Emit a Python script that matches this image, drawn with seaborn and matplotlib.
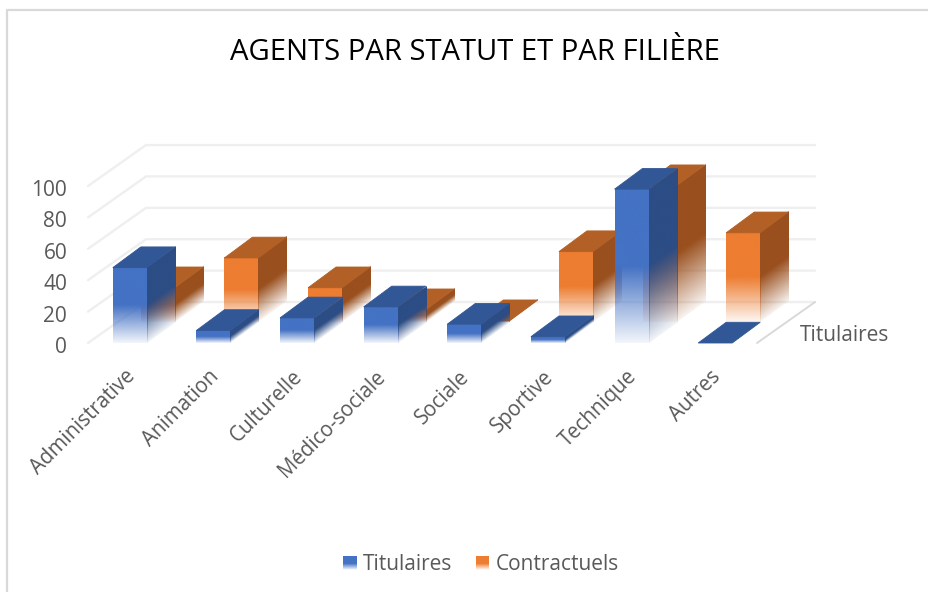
import numpy as np
import pandas as pd
import seaborn as sns
from matplotlib import pyplot as plt
from matplotlib.colors import to_rgb
from matplotlib.legend_handler import HandlerBase
from matplotlib.lines import Line2D
from matplotlib.patches import Polygon, Rectangle
from matplotlib.transforms import ScaledTranslation

TITLE = "AGENTS PAR STATUT ET PAR FILIÈRE"
filieres = ["Administrative", "Animation", "Culturelle", "Médico-sociale",
            "Sociale", "Sportive", "Technique", "Autres"]
titulaires = [48, 8, 16, 23, 12, 4, 98, 0]
contractuels = [22, 41, 22, 8, 1, 45, 87, 57]
y_ticks = [0, 20, 40, 60, 80, 100]
series = ["Titulaires", "Contractuels"]

W, H = 929, 592
TEXT = "#595959"
GRID = "#EFEFEF"
# front, side, top
SHADES = {"Titulaires": ("#4472C4", "#2C4D85", "#325796"),
          "Contractuels": ("#ED7D31", "#9A501E", "#B26025")}

# one row of bars in the fake 3d depth, in data units
DEPTH_X = 0.335
DEPTH_Y = 13.2
WALL_X = 0.694
WALL_Y = 26.1
FADE_FROM = 0.5
PX_X = 83.6
PX_Y = 1.57
OVERSAMPLE = 4


def draw_face(ax, x0, x1, y0, h, slant, color, zorder):
    # gradient image of one face, alpha goes to 0 outside the (sheared) face
    nx = max(2, int((x1 - x0) * PX_X * OVERSAMPLE))
    ny = max(2, int((h + slant) * PX_Y * OVERSAMPLE))
    xs = (np.arange(nx) + 0.5) / nx
    ys = y0 + (np.arange(ny) + 0.5) / ny * (h + slant)
    u, y = np.meshgrid(xs, ys)
    v = (y - y0 - u * slant) / h
    alpha = np.clip(0.06 + 0.94 * v / FADE_FROM, 0, 1)
    alpha[(v < 0) | (v > 1)] = 0
    rgba = np.zeros((ny, nx, 4))
    rgba[..., :3] = to_rgb(color)
    rgba[..., 3] = alpha
    ax.imshow(rgba, extent=(x0, x1, y0, y0 + h + slant), origin="lower", aspect="auto",
              interpolation="hanning", zorder=zorder, clip_on=False)


def draw_box(ax, patch, row, shades, zorder):
    x0 = patch.get_x() + row * DEPTH_X
    x1 = x0 + patch.get_width()
    h = patch.get_height()
    y0 = row * DEPTH_Y
    front, side, top = shades
    if h > 0:
        draw_face(ax, x0, x1, y0, h, 0, front, zorder)
        draw_face(ax, x1, x1 + DEPTH_X, y0, h, DEPTH_Y, side, zorder)
    ax.add_patch(Polygon([(x0, y0 + h), (x1, y0 + h), (x1 + DEPTH_X, y0 + h + DEPTH_Y),
                          (x0 + DEPTH_X, y0 + h + DEPTH_Y)],
                         facecolor=top, edgecolor=top, lw=0.6, zorder=zorder, clip_on=False))


class GradientSwatch(HandlerBase):
    def create_artists(self, legend, orig_handle, xdescent, ydescent, width, height, fontsize, trans):
        steps = 14
        artists = []
        for i in range(steps):
            frac = i / (steps - 1)
            alpha = min(1.0, 0.06 + frac / FADE_FROM)
            artists.append(Rectangle((xdescent, ydescent + height * i / steps), width, height / steps,
                                     facecolor=orig_handle.get_facecolor()[:3] + (alpha,),
                                     edgecolor="none", transform=trans))
        return artists


sns.set_theme(style="white")
plt.rcParams["font.family"] = ["Open Sans", "DejaVu Sans"]

positions = list(range(len(filieres)))
df = pd.DataFrame({
    "pos": positions * 2,
    "agents": titulaires + contractuels,
    "statut": [series[0]] * len(filieres) + [series[1]] * len(filieres),
})

fig = plt.figure(figsize=(W / 100, H / 100), dpi=100)
ax = fig.add_axes([88 / W, (H - 343) / H, (757 - 88) / W, 200 / H])

sns.barplot(data=df, x="pos", y="agents", hue="statut", hue_order=series, native_scale=True,
            dodge=False, width=0.407, errorbar=None, legend=False, ax=ax)
ax.set_xlim(-0.5, 7.5)
ax.set_ylim(0, 200 / PX_Y)

# the walls, back plane sits behind both rows
for v in y_ticks:
    ax.plot([-0.5, -0.5 + WALL_X, 7.5 + WALL_X], [v, v + WALL_Y, v + WALL_Y],
            color=GRID, lw=1.7, zorder=1, clip_on=False)
ax.plot([7.5, 7.5 + WALL_X], [0, WALL_Y], color="#D9D9D9", lw=1.4, zorder=1, clip_on=False)

# seaborn gives the bars, the depth is added on top of them. back row first
for row, name in reversed(list(enumerate(series))):
    for patch in ax.containers[row].patches:
        draw_box(ax, patch, row, SHADES[name], zorder=2 + (1 - row))
        patch.set_visible(False)

ax.set_xlabel("")
ax.set_ylabel("")
ax.set_yticks(y_ticks)
ax.set_xticks(positions)
ax.set_xticklabels(filieres)
ax.set_xlim(-0.5, 7.5)
ax.set_ylim(0, 200 / PX_Y)
ax.tick_params(axis="y", length=0, pad=15, labelsize=15, labelcolor=TEXT)
ax.tick_params(axis="x", length=0, pad=22, labelsize=14.8, labelcolor=TEXT)
plt.setp(ax.get_xticklabels(), rotation=45, ha="right", va="center", rotation_mode="anchor")
for label in ax.get_xticklabels():
    label.set_transform(label.get_transform() + ScaledTranslation(2 / 100, 0, fig.dpi_scale_trans))
for label in ax.get_yticklabels():
    label.set_transform(label.get_transform() + ScaledTranslation(0, -2 / 100, fig.dpi_scale_trans))
sns.despine(ax=ax, left=True, bottom=True)

ax.text((800 - 88) / PX_X - 0.5, 5, series[0], color=TEXT, fontsize=15, va="center", ha="left", clip_on=False)

fig.text(475 / W, 1 - 53 / H, TITLE, color="black", fontsize=21.1, ha="center", va="center")

handles = [Rectangle((0, 0), 1, 1, facecolor=SHADES[name][0]) for name in series]
fig.legend(handles, series, handler_map={Rectangle: GradientSwatch()}, loc="center",
           bbox_to_anchor=(481 / W, 1 - 564 / H), ncol=2, frameon=False, fontsize=15,
           handlelength=0.67, handleheight=0.67, handletextpad=0.29, columnspacing=1.1, labelcolor=TEXT)

fig.add_artist(Line2D([7.5 / W, 7.5 / W, 1], [0, 1 - 10 / H, 1 - 10 / H], color="#D9D9D9", lw=1.6))

fig.savefig("out.png", dpi=100, facecolor="white")
